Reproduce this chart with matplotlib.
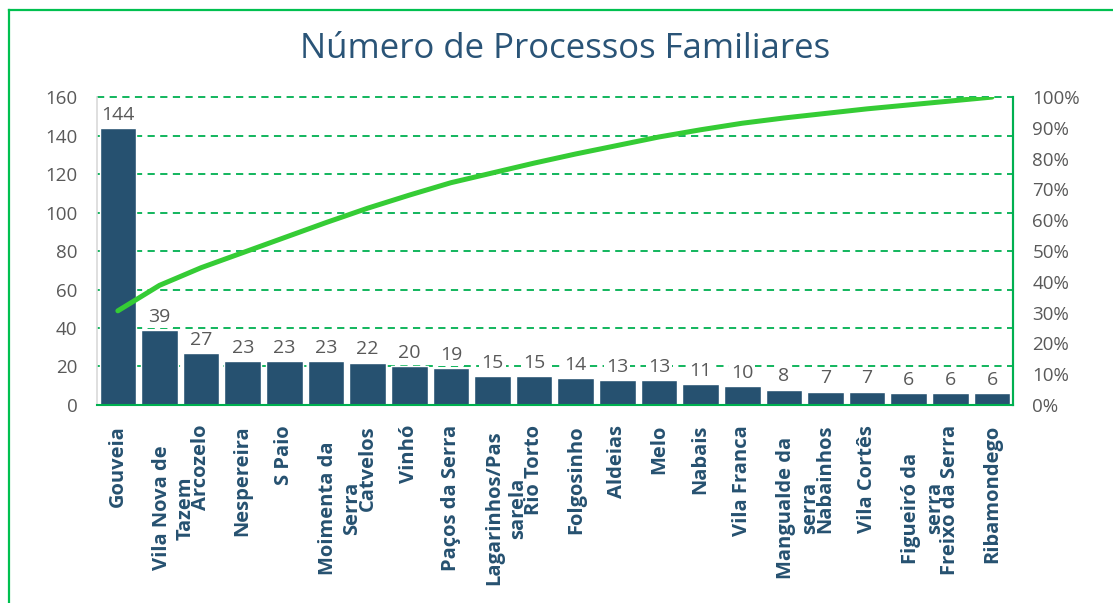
import matplotlib.pyplot as plt
import numpy as np
from matplotlib.lines import Line2D
from matplotlib.transforms import ScaledTranslation, blended_transform_factory

plt.rcParams['font.family'] = ['Open Sans', 'DejaVu Sans']

CATEGORIES = ["Gouveia", "Vila Nova de\nTazem", "Arcozelo", "Nespereira", "S Paio",
              "Moimenta da\nSerra", "Catvelos", "Vinhó", "Paços da Serra",
              "Lagarinhos/Pas\nsarela", "Rio Torto", "Folgosinho", "Aldeias", "Melo",
              "Nabais", "Vila Franca", "Mangualde da\nserra", "Nabainhos", "Vila Cortês",
              "Figueiró da\nserra", "Freixo da Serra", "Ribamondego"]
COUNTS = [144, 39, 27, 23, 23, 23, 22, 20, 19, 15, 15, 14, 13, 13, 11, 10, 8, 7, 7, 6, 6, 6]

BAR_COLOR = "#265170"
LINE_COLOR = "#35CC35"
GRID_GREEN = "#00B050"
TEXT_GRAY = "#595959"

counts = np.array(COUNTS)
cum_pct = np.cumsum(counts) / counts.sum() * 100
x = np.arange(len(CATEGORIES))

fig = plt.figure(figsize=(11.13, 6.03), dpi=100)
ax = fig.add_axes([0.0872, 0.3284, 0.8228, 0.5106])

bars = ax.bar(x, counts, width=0.88, color=BAR_COLOR, edgecolor="white", linewidth=1, zorder=2)
ax.set_xlim(-0.5, len(CATEGORIES) - 0.5)
ax.set_ylim(0, 160)
ax.set_yticks(np.arange(0, 161, 20))
ax.tick_params(axis="y", length=0, labelsize=13.5, labelcolor=TEXT_GRAY, pad=14)
ax.tick_params(axis="x", length=0)
ax.set_xticks([])
ax.grid(axis="y", color=GRID_GREEN, linestyle=(0, (4, 3)), linewidth=1.3, zorder=0)
for gl in ax.get_ygridlines():
    gl.set_clip_on(False)
ax.set_axisbelow(True)
ax.spines["top"].set_visible(False)
ax.spines["left"].set_color("#D9D9D9")
ax.spines["left"].set_linewidth(1.2)
ax.spines["bottom"].set_color(GRID_GREEN)
ax.spines["bottom"].set_linewidth(1.5)
ax.spines["right"].set_color(GRID_GREEN)
ax.spines["right"].set_linewidth(1.5)

# data labels with white background
for xi, v in zip(x, counts):
    ax.annotate(str(v), (xi, v), xytext=(0, 3), textcoords="offset points",
                ha="center", va="bottom", fontsize=14, color=TEXT_GRAY, zorder=4,
                bbox=dict(boxstyle="square,pad=0.1", fc="white", ec="none"))

# category labels
trans = blended_transform_factory(ax.transData, ax.transAxes)
for xi, lab in zip(x, CATEGORIES):
    if "\n" in lab:
        off = ScaledTranslation(14 / 100, -(20 + 83) / 100, fig.dpi_scale_trans)
        ax.text(xi, 0, lab, transform=trans + off, rotation=90, ha="center", va="center",
                multialignment="center", fontsize=14.5, fontweight="bold", color=BAR_COLOR,
                linespacing=1.25)
    else:
        off = ScaledTranslation(0, -20 / 100, fig.dpi_scale_trans)
        ax.text(xi, 0, lab, transform=trans + off, rotation=90, ha="center", va="top",
                fontsize=14.5, fontweight="bold", color=BAR_COLOR)

ax2 = ax.twinx()
ax2.plot(x, cum_pct, color=LINE_COLOR, linewidth=3.6, solid_capstyle="round", zorder=5)
ax2.set_ylim(0, 100)
ax2.set_yticks(np.arange(0, 101, 10))
ax2.set_yticklabels([f"{t}%" for t in range(0, 101, 10)])
ax2.tick_params(axis="y", length=0, labelsize=13.5, labelcolor=TEXT_GRAY, pad=14)
for s in ["top", "left", "bottom"]:
    ax2.spines[s].set_visible(False)
ax2.spines["right"].set_color(GRID_GREEN)
ax2.spines["right"].set_linewidth(1.5)

fig.text(0.508, 0.918, "Número de Processos Familiares", ha="center", va="center",
         fontsize=25, color="#2A5477")

# outer frame (only top and left edges visible)
fig.add_artist(Line2D([9 / 1113, 9 / 1113], [0, 1 - 10 / 603], transform=fig.transFigure,
                      color="#00C050", linewidth=1.6))
fig.add_artist(Line2D([9 / 1113, 1], [1 - 10 / 603, 1 - 10 / 603], transform=fig.transFigure,
                      color="#00C050", linewidth=1.6))

fig.savefig("out.png", dpi=100)
